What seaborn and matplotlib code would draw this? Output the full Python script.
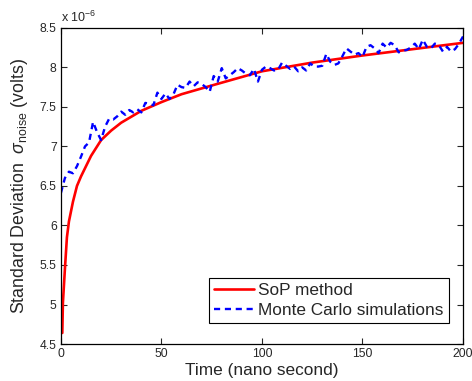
import numpy as np
import pandas as pd
import matplotlib
matplotlib.use('Agg')
import matplotlib.pyplot as plt
from matplotlib.ticker import FuncFormatter
import seaborn as sns

# SoP method (smooth curve), values in units of 1e-6 volts
sop_time = [0.7, 1, 2, 3, 4, 6, 8, 10, 15, 20, 25, 30, 40, 50, 60, 75,
            100, 125, 150, 175, 200]
sop_std = [4.64, 5.02, 5.45, 5.85, 6.05, 6.30, 6.50, 6.62, 6.88, 7.08, 7.20,
           7.30, 7.45, 7.56, 7.66, 7.77, 7.95, 8.06, 8.15, 8.23, 8.31]

# Monte Carlo simulations (noisy), every 2 ns
mc_time = list(range(0, 201, 2))
mc_std = [6.41, 6.60, 6.68, 6.66, 6.75, 6.87, 7.00, 7.05, 7.31, 7.18,
          7.08, 7.25, 7.35, 7.34, 7.38, 7.44, 7.40, 7.46, 7.43, 7.47,
          7.43, 7.55, 7.54, 7.52, 7.68, 7.60, 7.67, 7.60, 7.66, 7.78,
          7.75, 7.74, 7.82, 7.76, 7.81, 7.79, 7.75, 7.69, 7.89, 7.82,
          7.99, 7.86, 7.90, 7.94, 7.99, 7.96, 7.92, 7.90, 7.98, 7.82,
          7.97, 8.01, 7.99, 7.96, 7.97, 8.06, 8.02, 7.98, 8.01, 7.95,
          8.00, 7.96, 8.05, 8.01, 8.01, 8.02, 8.17, 8.07, 8.03, 8.05,
          8.14, 8.24, 8.20, 8.16, 8.18, 8.13, 8.26, 8.28, 8.24, 8.18,
          8.30, 8.25, 8.31, 8.28, 8.19, 8.21, 8.22, 8.25, 8.30, 8.23,
          8.35, 8.26, 8.24, 8.30, 8.28, 8.20, 8.26, 8.20, 8.23, 8.30,
          8.39]

x_ticks = [0, 50, 100, 150, 200]
y_ticks = [4.5, 5, 5.5, 6, 6.5, 7, 7.5, 8, 8.5]

sns.set_style('ticks')
plt.rcParams['font.family'] = ['Liberation Sans', 'DejaVu Sans']
plt.rcParams['mathtext.fontset'] = 'custom'
plt.rcParams['mathtext.rm'] = 'Liberation Sans'
plt.rcParams['mathtext.it'] = 'Liberation Sans:italic'

fig = plt.figure(figsize=(4.72, 3.81), dpi=100)
ax = fig.add_axes([0.129, 0.097, 0.852, 0.830])

sns.lineplot(x=sop_time, y=sop_std, ax=ax, color=(1, 0, 0), linewidth=1.9,
             label='SoP method')
sns.lineplot(x=mc_time, y=mc_std, ax=ax, color=(0, 0, 1), linewidth=1.7,
             linestyle=(0, (2.6, 2.0)), label='Monte Carlo simulations')

ax.set_xlim(0, 200)
ax.set_ylim(4.5, 8.5)
ax.set_xticks(x_ticks)
ax.set_yticks(y_ticks)
ax.yaxis.set_major_formatter(FuncFormatter(lambda v, p: '%g' % v))
ax.tick_params(direction='in', length=4, width=0.8, top=True, right=True,
               labelsize=8.7, pad=3)
for s in ax.spines.values():
    s.set_visible(True)
    s.set_linewidth(0.9)
    s.set_color('black')

ax.set_xlabel('Time (nano second)', fontsize=12.4, labelpad=2)
ax.set_ylabel(r'Standard Deviation  $\sigma_{\rm noise}$ (volts)',
              fontsize=12.8, labelpad=7)
ax.text(0.0, 1.01, r'x 10$^{-6}$', transform=ax.transAxes, fontsize=9,
        ha='left', va='bottom')

leg = ax.legend(loc='lower right', bbox_to_anchor=(0.965, 0.066),
                fontsize=12.4, frameon=True, fancybox=False, borderpad=0.3,
                handlelength=2.3, handletextpad=0.25, labelspacing=0.3,
                borderaxespad=0)
leg.get_frame().set_edgecolor('black')
leg.get_frame().set_linewidth(0.8)
leg.get_frame().set_alpha(1)

fig.savefig('out.png', dpi=100)
